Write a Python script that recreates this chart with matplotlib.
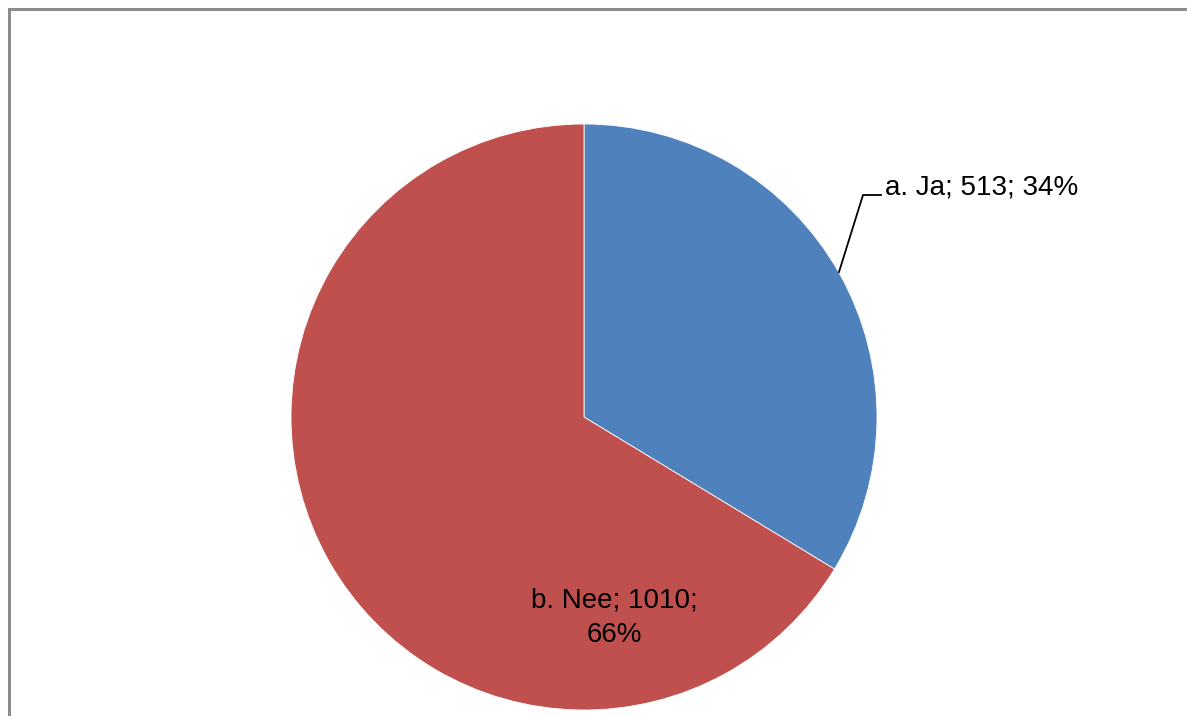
import matplotlib.pyplot as plt
from matplotlib.patches import Rectangle

labels = ['a. Ja', 'b. Nee']
counts = [513, 1010]
colors = ['#4F81BD', '#C0504D']

W, H = 1187, 716

fig = plt.figure(figsize=(W / 100, H / 100), dpi=100)
ax = fig.add_axes([0, 0, 1, 1])

# chart frame (runs off the right and bottom edge)
ax.add_patch(Rectangle((9, -20), W + 20, H - 9 + 20, fill=False,
                       edgecolor='#8c8c8c', linewidth=2.2))

cx, cy, r = 584, H - 417, 293
ax.pie(counts, colors=colors, startangle=90, counterclock=False,
       center=(cx, cy), radius=r, frame=True,
       wedgeprops=dict(edgecolor='white', linewidth=0.6))
ax.set_xlim(0, W)
ax.set_ylim(0, H)
ax.set_aspect('equal')
ax.axis('off')

total = sum(counts)
pcts = [round(c / total * 100) for c in counts]

font = dict(family='Liberation Sans', fontsize=20, color='black')

# label for first slice with leader line
ax.plot([839, 863, 881], [H - 272, H - 195, H - 195], color='black', lw=1.3)
ax.text(885, H - 188, f'{labels[0]}; {counts[0]}; {pcts[0]}%',
        ha='left', va='center', **font)

ax.text(614, H - 618, f'{labels[1]}; {counts[1]};\n{pcts[1]}%',
        ha='center', va='center', linespacing=1.45, **font)

fig.savefig('out.png', dpi=100)
